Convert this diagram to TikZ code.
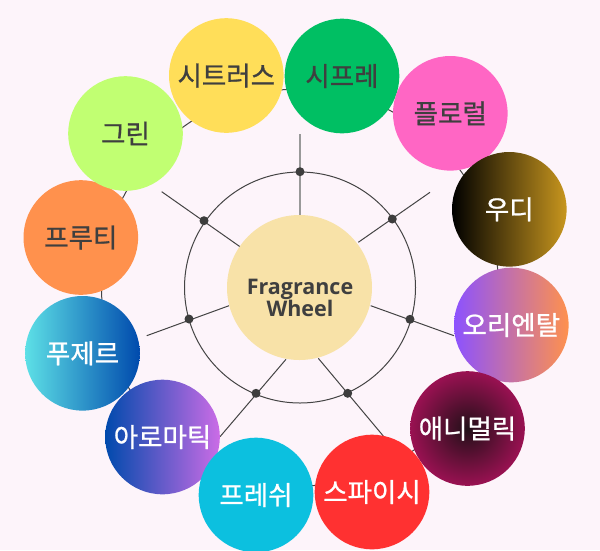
\documentclass[tikz,border=0pt]{standalone}
\usepackage{fontspec}
\setmainfont{Open Sans}
\newfontfamily\krfont[FakeBold=0.9]{Noto Sans CJK KR}

\definecolor{bgpink}{HTML}{FDF4FA}
\definecolor{linegray}{HTML}{444444}
\definecolor{topgray}{HTML}{999999}
\definecolor{dotgray}{HTML}{3D3D3D}
\definecolor{txtgray}{HTML}{3F3F3F}
\definecolor{hubfill}{HTML}{F8E2A8}
\definecolor{citrus}{HTML}{FFDE59}
\definecolor{chypre}{HTML}{00BF63}
\definecolor{floral}{HTML}{FF66C4}
\definecolor{woodgold}{HTML}{C8961E}
\definecolor{orientL}{HTML}{8C52FF}
\definecolor{orientR}{HTML}{FF914D}
\definecolor{animIn}{HTML}{221018}
\definecolor{animOut}{HTML}{9A1152}
\definecolor{spicy}{HTML}{FF3131}
\definecolor{fresh}{HTML}{0CC0DF}
\definecolor{aromaL}{HTML}{004AAD}
\definecolor{aromaR}{HTML}{CB6CE6}
\definecolor{fougL}{HTML}{5DE0E6}
\definecolor{fougR}{HTML}{004AAD}
\definecolor{fruity}{HTML}{FF914D}
\definecolor{green}{HTML}{C1FF72}

\tikzset{
  petal/.style={circle, minimum size=114.6pt, inner sep=0pt,
    font=\krfont\fontsize{26.5}{26.5}\selectfont},
  darkpetal/.style={petal, text=txtgray},
  lightpetal/.style={petal, text=white},
  spoke/.style={draw=linegray, line width=1pt},
  hubdot/.style={circle, fill=dotgray, minimum size=9pt, inner sep=0pt},
}

\begin{document}
\begin{tikzpicture}[x=1pt,y=-1pt]
    \fill[bgpink] (0,0) rectangle (600,550);
    \useasboundingbox (0,0) rectangle (600,550);

    % orbit behind the petals
    \node[circle, draw=linegray, line width=1pt, minimum size=397pt, inner sep=0pt] (orbit) at (300,287.5) {};

    % ring and spokes
    \node[circle, draw=linegray, line width=1pt, minimum size=231pt, inner sep=0pt] (ring) at (300,287.5) {};
    \coordinate (in1) at (300,216);     \coordinate (out1) at (300,134);
    \coordinate (in2) at (358.3,242.3); \coordinate (out2) at (430,192.3);
    \coordinate (in3) at (370.7,305.7); \coordinate (out3) at (454,335.7);
    \coordinate (in4) at (318.3,358.3); \coordinate (out4) at (383.3,436);
    \coordinate (in5) at (286,359.3);   \coordinate (out5) at (220,436.7);
    \coordinate (in6) at (229,305.7);   \coordinate (out6) at (146.7,335.7);
    \coordinate (in7) at (240,246.7);   \coordinate (out7) at (161.7,191.7);
    \draw[draw=topgray, line width=1.8pt] (in1) -- (out1);
    \foreach \i in {2,...,7}
        \draw[spoke] (in\i) -- (out\i);
    \node[hubdot] (d1) at (300,171.7) {};
    \node[hubdot] (d2) at (392.3,219) {};
    \node[hubdot] (d3) at (410,319.3) {};
    \node[hubdot] (d4) at (347.7,393.3) {};
    \node[hubdot] (d5) at (256,393.3) {};
    \node[hubdot] (d6) at (189,319) {};
    \node[hubdot] (d7) at (204,220.7) {};

    % hub
    \node[circle, fill=hubfill, minimum size=145pt, inner sep=0pt] (hub) at (299.5,287.5) {};
    \node[font=\bfseries\fontsize{21.5}{20.5}\selectfont, align=center, text=txtgray, inner sep=0pt] (hubtxt) at (300,298) {Fragrance\\Wheel};

    % petals
    \node[darkpetal, fill=citrus] (citrus) at (226.3,75.5) {시트러스};
    \node[darkpetal, fill=chypre] (chypre) at (342,76) {시프레};
    \node[darkpetal, fill=floral] (floral) at (450.3,113.3) {플로럴};
    \node[lightpetal, left color=black, right color=woodgold] (woody) at (509.3,209.3) {우디};
    \node[lightpetal, left color=orientL, right color=orientR] (oriental) at (511.3,325) {오리엔탈};
    \node[lightpetal, inner color=animIn, outer color=animOut] (animalic) at (467.5,428.5) {애니멀릭};
    \node[lightpetal, fill=spicy] (spicy) at (372,492) {스파이시};
    \node[lightpetal, left color=aromaL, right color=aromaR] (aromatic) at (162.5,437) {아로마틱};
    \node[lightpetal, fill=fresh] (fresh) at (256,495) {프레쉬};
    \node[lightpetal, left color=fougL, right color=fougR] (fougere) at (82.5,353.3) {푸제르};
    \node[darkpetal, fill=fruity] (fruity) at (80.8,237.5) {프루티};
    \node[darkpetal, fill=green] (green) at (125.5,133.5) {그린};
\end{tikzpicture}
\end{document}
